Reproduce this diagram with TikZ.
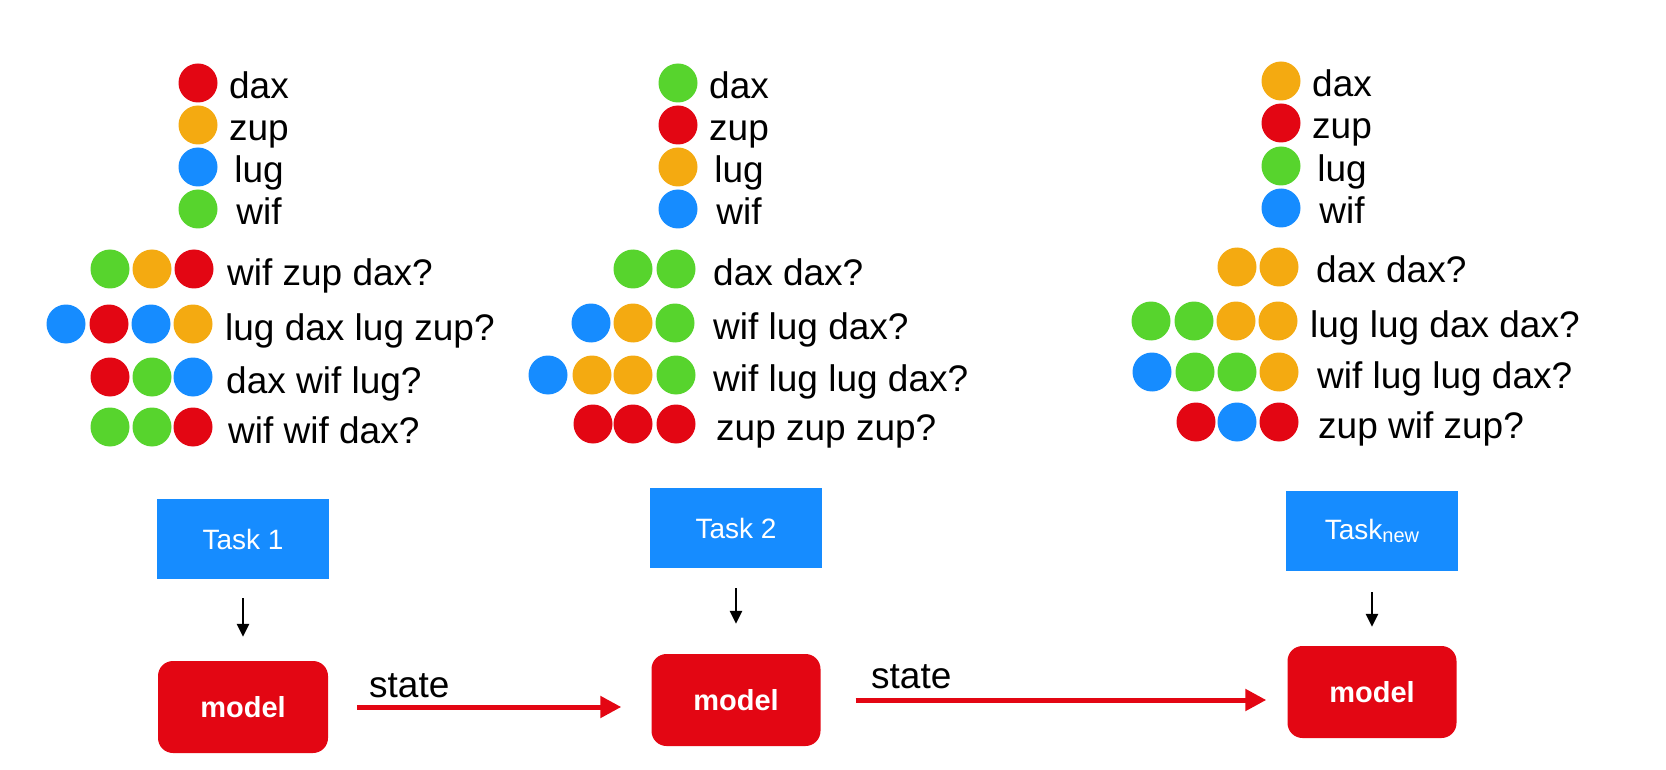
\documentclass[tikz,border=0pt]{standalone}
\usepackage{fontspec}
\setmainfont{Liberation Sans}
\usetikzlibrary{arrows.meta}
\definecolor{cR}{RGB}{227,6,19}
\definecolor{cO}{RGB}{244,170,17}
\definecolor{cB}{RGB}{22,140,255}
\definecolor{cG}{RGB}{87,212,45}
\begin{document}
\begin{tikzpicture}[x=1pt,y=-1pt,
  dot/.style={circle,inner sep=0pt,minimum size=39pt},
  word/.style={font=\fontsize{37}{40}\selectfont,inner sep=0pt,anchor=base west},
  legword/.style={font=\fontsize{37}{40}\selectfont,inner sep=0pt,anchor=base},
  taskbox/.style={fill=cB,minimum width=172pt,minimum height=80pt,inner sep=0pt,text=white,font=\fontsize{28}{30}\selectfont},
  modelbox/.style={fill=cR,rounded corners=15pt,minimum width=170pt,minimum height=92pt,inner sep=0pt,text=white,font=\bfseries\fontsize{29}{30}\selectfont},
  feed/.style={draw=black,line width=2.5pt,-{Triangle[length=13pt,width=12pt]}},
  statearrow/.style={draw=cR,line width=5pt,-{Triangle[length=21pt,width=21pt]}}]
\useasboundingbox (0,0) rectangle (1666,770);

% ---------- Panel 1 ----------
\foreach \y/\c/\w [count=\i] in {83/cR/dax,125/cO/zup,167/cB/lug,209/cG/wif}{
  \node[dot,fill=\c] (pa\i) at (198,\y) {};
  \node[legword] (paw\i) at (259,\y+16) {\w};
}
\foreach \x/\c [count=\i] in {110/cG,152/cO,194/cR} \node[dot,fill=\c] (paa\i) at (\x,269) {};
\node[word] (paat) at (227,285) {wif zup dax?};
\foreach \x/\c [count=\i] in {66/cB,109/cR,151/cB,193/cO} \node[dot,fill=\c] (pab\i) at (\x,324) {};
\node[word] (pabt) at (225,340) {lug dax lug zup?};
\foreach \x/\c [count=\i] in {110/cR,152/cG,193/cB} \node[dot,fill=\c] (pac\i) at (\x,377) {};
\node[word] (pact) at (226,393) {dax wif lug?};
\foreach \x/\c [count=\i] in {110/cG,152/cG,193/cR} \node[dot,fill=\c] (pad\i) at (\x,427) {};
\node[word] (padt) at (228,443) {wif wif dax?};

% ---------- Panel 2 ----------
\foreach \y/\c/\w [count=\i] in {83/cG/dax,125/cR/zup,167/cO/lug,209/cB/wif}{
  \node[dot,fill=\c] (pb\i) at (678,\y) {};
  \node[legword] (pbw\i) at (739,\y+16) {\w};
}
\foreach \x/\c [count=\i] in {633/cG,676/cG} \node[dot,fill=\c] (pba\i) at (\x,269) {};
\node[word] (pbat) at (713,285) {dax dax?};
\foreach \x/\c [count=\i] in {591/cB,633/cO,675/cG} \node[dot,fill=\c] (pbb\i) at (\x,323) {};
\node[word] (pbbt) at (713,339) {wif lug dax?};
\foreach \x/\c [count=\i] in {548/cB,592/cO,633/cO,676/cG} \node[dot,fill=\c] (pbc\i) at (\x,375) {};
\node[word] (pbct) at (713,391) {wif lug lug dax?};
\foreach \x/\c [count=\i] in {593/cR,633/cR,676/cR} \node[dot,fill=\c] (pbd\i) at (\x,424) {};
\node[word] (pbdt) at (716,440) {zup zup zup?};

% ---------- Panel 3 ----------
\foreach \y/\c/\w [count=\i] in {81/cO/dax,123/cR/zup,166/cG/lug,208/cB/wif}{
  \node[dot,fill=\c] (pc\i) at (1281,\y) {};
  \node[legword] (pcw\i) at (1342,\y+16) {\w};
}
\foreach \x/\c [count=\i] in {1237/cO,1279/cO} \node[dot,fill=\c] (pca\i) at (\x,267) {};
\node[word] (pcat) at (1316,283) {dax dax?};
\foreach \x/\c [count=\i] in {1151/cG,1194/cG,1236/cO,1278/cO} \node[dot,fill=\c] (pcb\i) at (\x,321) {};
\node[word] (pcbt) at (1310,337) {lug lug dax dax?};
\foreach \x/\c [count=\i] in {1152/cB,1195/cG,1237/cG,1279/cO} \node[dot,fill=\c] (pcc\i) at (\x,372) {};
\node[word] (pcct) at (1317,388) {wif lug lug dax?};
\foreach \x/\c [count=\i] in {1196/cR,1237/cB,1279/cR} \node[dot,fill=\c] (pcd\i) at (\x,422) {};
\node[word] (pcdt) at (1318,438) {zup wif zup?};

% ---------- Tasks and models ----------
\node[taskbox] (t1) at (243,539) {Task 1};
\node[modelbox] (m1) at (243,707) {model};
\node[taskbox] (t2) at (736,528) {Task 2};
\node[modelbox,minimum width=169pt] (m2) at (736,700) {model};
\node[taskbox] (t3) at (1372,531) {Task\raisebox{-3pt}{\fontsize{20}{20}\selectfont new}};
\node[modelbox,minimum width=169pt] (m3) at (1372,692) {model};

\draw[feed,shorten <=19pt,shorten >=24pt] (t1.south) -- (m1.north);
\draw[feed,shorten <=20pt,shorten >=30pt] (t2.south) -- (m2.north);
\draw[feed,shorten <=21pt,shorten >=19pt] (t3.south) -- (m3.north);

\draw[statearrow,shorten <=29pt,shorten >=30pt] (m1.east) -- (m1.east -| m2.west);
\node[word] (s1) at (369,697) {state};
\draw[statearrow,shorten <=35pt,shorten >=21pt] (m2.east) -- (m2.east -| m3.west);
\node[word] (s2) at (871,688) {state};
\end{tikzpicture}
\end{document}
